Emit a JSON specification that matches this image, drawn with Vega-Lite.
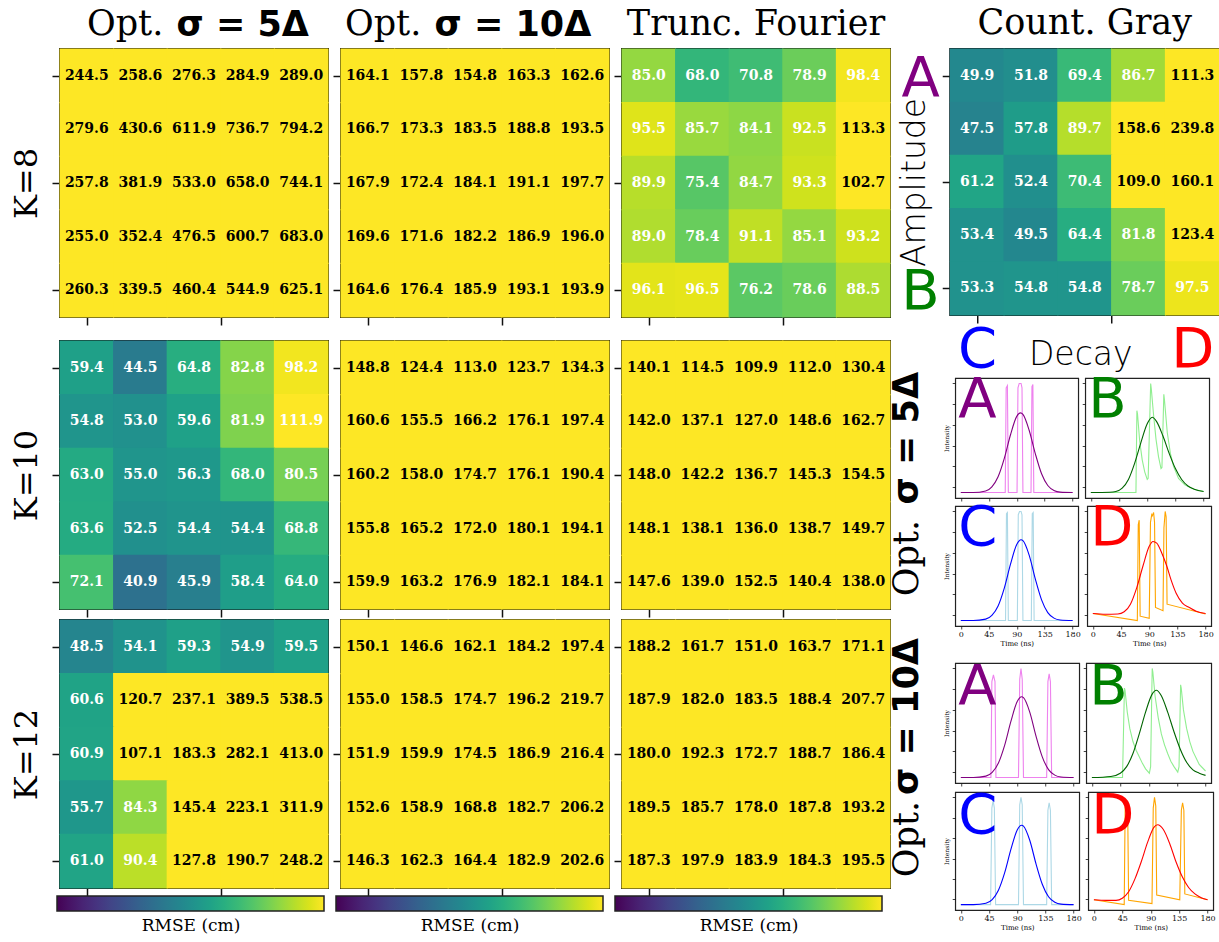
{
  "$schema": "https://vega.github.io/schema/vega-lite/v6.json",
  "background": "#ffffff",
  "padding": {"left": 9, "top": 5, "right": 3, "bottom": 3},
  "config": {
    "view": {"stroke": "#222222"},
    "axis": {"grid": false, "domain": false, "tickColor": "#111111", "labelColor": "#111111", "titleColor": "#000000", "labelFont": "DejaVu Serif", "titleFont": "DejaVu Serif", "titleFontWeight": "normal", "labelFlush": false, "labelOverlap": false},
    "title": {"color": "#000000", "fontWeight": "normal"}
  },
  "datasets": {
    "rmse": [
      {"p":"a8","r":0,"c":0,"v":244.5},{"p":"a8","r":0,"c":1,"v":258.6},{"p":"a8","r":0,"c":2,"v":276.3},{"p":"a8","r":0,"c":3,"v":284.9},{"p":"a8","r":0,"c":4,"v":289.0},
      {"p":"a8","r":1,"c":0,"v":279.6},{"p":"a8","r":1,"c":1,"v":430.6},{"p":"a8","r":1,"c":2,"v":611.9},{"p":"a8","r":1,"c":3,"v":736.7},{"p":"a8","r":1,"c":4,"v":794.2},
      {"p":"a8","r":2,"c":0,"v":257.8},{"p":"a8","r":2,"c":1,"v":381.9},{"p":"a8","r":2,"c":2,"v":533.0},{"p":"a8","r":2,"c":3,"v":658.0},{"p":"a8","r":2,"c":4,"v":744.1},
      {"p":"a8","r":3,"c":0,"v":255.0},{"p":"a8","r":3,"c":1,"v":352.4},{"p":"a8","r":3,"c":2,"v":476.5},{"p":"a8","r":3,"c":3,"v":600.7},{"p":"a8","r":3,"c":4,"v":683.0},
      {"p":"a8","r":4,"c":0,"v":260.3},{"p":"a8","r":4,"c":1,"v":339.5},{"p":"a8","r":4,"c":2,"v":460.4},{"p":"a8","r":4,"c":3,"v":544.9},{"p":"a8","r":4,"c":4,"v":625.1},
      {"p":"b8","r":0,"c":0,"v":164.1},{"p":"b8","r":0,"c":1,"v":157.8},{"p":"b8","r":0,"c":2,"v":154.8},{"p":"b8","r":0,"c":3,"v":163.3},{"p":"b8","r":0,"c":4,"v":162.6},
      {"p":"b8","r":1,"c":0,"v":166.7},{"p":"b8","r":1,"c":1,"v":173.3},{"p":"b8","r":1,"c":2,"v":183.5},{"p":"b8","r":1,"c":3,"v":188.8},{"p":"b8","r":1,"c":4,"v":193.5},
      {"p":"b8","r":2,"c":0,"v":167.9},{"p":"b8","r":2,"c":1,"v":172.4},{"p":"b8","r":2,"c":2,"v":184.1},{"p":"b8","r":2,"c":3,"v":191.1},{"p":"b8","r":2,"c":4,"v":197.7},
      {"p":"b8","r":3,"c":0,"v":169.6},{"p":"b8","r":3,"c":1,"v":171.6},{"p":"b8","r":3,"c":2,"v":182.2},{"p":"b8","r":3,"c":3,"v":186.9},{"p":"b8","r":3,"c":4,"v":196.0},
      {"p":"b8","r":4,"c":0,"v":164.6},{"p":"b8","r":4,"c":1,"v":176.4},{"p":"b8","r":4,"c":2,"v":185.9},{"p":"b8","r":4,"c":3,"v":193.1},{"p":"b8","r":4,"c":4,"v":193.9},
      {"p":"c8","r":0,"c":0,"v":85.0},{"p":"c8","r":0,"c":1,"v":68.0},{"p":"c8","r":0,"c":2,"v":70.8},{"p":"c8","r":0,"c":3,"v":78.9},{"p":"c8","r":0,"c":4,"v":98.4},
      {"p":"c8","r":1,"c":0,"v":95.5},{"p":"c8","r":1,"c":1,"v":85.7},{"p":"c8","r":1,"c":2,"v":84.1},{"p":"c8","r":1,"c":3,"v":92.5},{"p":"c8","r":1,"c":4,"v":113.3},
      {"p":"c8","r":2,"c":0,"v":89.9},{"p":"c8","r":2,"c":1,"v":75.4},{"p":"c8","r":2,"c":2,"v":84.7},{"p":"c8","r":2,"c":3,"v":93.3},{"p":"c8","r":2,"c":4,"v":102.7},
      {"p":"c8","r":3,"c":0,"v":89.0},{"p":"c8","r":3,"c":1,"v":78.4},{"p":"c8","r":3,"c":2,"v":91.1},{"p":"c8","r":3,"c":3,"v":85.1},{"p":"c8","r":3,"c":4,"v":93.2},
      {"p":"c8","r":4,"c":0,"v":96.1},{"p":"c8","r":4,"c":1,"v":96.5},{"p":"c8","r":4,"c":2,"v":76.2},{"p":"c8","r":4,"c":3,"v":78.6},{"p":"c8","r":4,"c":4,"v":88.5},
      {"p":"g","r":0,"c":0,"v":49.9},{"p":"g","r":0,"c":1,"v":51.8},{"p":"g","r":0,"c":2,"v":69.4},{"p":"g","r":0,"c":3,"v":86.7},{"p":"g","r":0,"c":4,"v":111.3},
      {"p":"g","r":1,"c":0,"v":47.5},{"p":"g","r":1,"c":1,"v":57.8},{"p":"g","r":1,"c":2,"v":89.7},{"p":"g","r":1,"c":3,"v":158.6},{"p":"g","r":1,"c":4,"v":239.8},
      {"p":"g","r":2,"c":0,"v":61.2},{"p":"g","r":2,"c":1,"v":52.4},{"p":"g","r":2,"c":2,"v":70.4},{"p":"g","r":2,"c":3,"v":109.0},{"p":"g","r":2,"c":4,"v":160.1},
      {"p":"g","r":3,"c":0,"v":53.4},{"p":"g","r":3,"c":1,"v":49.5},{"p":"g","r":3,"c":2,"v":64.4},{"p":"g","r":3,"c":3,"v":81.8},{"p":"g","r":3,"c":4,"v":123.4},
      {"p":"g","r":4,"c":0,"v":53.3},{"p":"g","r":4,"c":1,"v":54.8},{"p":"g","r":4,"c":2,"v":54.8},{"p":"g","r":4,"c":3,"v":78.7},{"p":"g","r":4,"c":4,"v":97.5},
      {"p":"a10","r":0,"c":0,"v":59.4},{"p":"a10","r":0,"c":1,"v":44.5},{"p":"a10","r":0,"c":2,"v":64.8},{"p":"a10","r":0,"c":3,"v":82.8},{"p":"a10","r":0,"c":4,"v":98.2},
      {"p":"a10","r":1,"c":0,"v":54.8},{"p":"a10","r":1,"c":1,"v":53.0},{"p":"a10","r":1,"c":2,"v":59.6},{"p":"a10","r":1,"c":3,"v":81.9},{"p":"a10","r":1,"c":4,"v":111.9},
      {"p":"a10","r":2,"c":0,"v":63.0},{"p":"a10","r":2,"c":1,"v":55.0},{"p":"a10","r":2,"c":2,"v":56.3},{"p":"a10","r":2,"c":3,"v":68.0},{"p":"a10","r":2,"c":4,"v":80.5},
      {"p":"a10","r":3,"c":0,"v":63.6},{"p":"a10","r":3,"c":1,"v":52.5},{"p":"a10","r":3,"c":2,"v":54.4},{"p":"a10","r":3,"c":3,"v":54.4},{"p":"a10","r":3,"c":4,"v":68.8},
      {"p":"a10","r":4,"c":0,"v":72.1},{"p":"a10","r":4,"c":1,"v":40.9},{"p":"a10","r":4,"c":2,"v":45.9},{"p":"a10","r":4,"c":3,"v":58.4},{"p":"a10","r":4,"c":4,"v":64.0},
      {"p":"b10","r":0,"c":0,"v":148.8},{"p":"b10","r":0,"c":1,"v":124.4},{"p":"b10","r":0,"c":2,"v":113.0},{"p":"b10","r":0,"c":3,"v":123.7},{"p":"b10","r":0,"c":4,"v":134.3},
      {"p":"b10","r":1,"c":0,"v":160.6},{"p":"b10","r":1,"c":1,"v":155.5},{"p":"b10","r":1,"c":2,"v":166.2},{"p":"b10","r":1,"c":3,"v":176.1},{"p":"b10","r":1,"c":4,"v":197.4},
      {"p":"b10","r":2,"c":0,"v":160.2},{"p":"b10","r":2,"c":1,"v":158.0},{"p":"b10","r":2,"c":2,"v":174.7},{"p":"b10","r":2,"c":3,"v":176.1},{"p":"b10","r":2,"c":4,"v":190.4},
      {"p":"b10","r":3,"c":0,"v":155.8},{"p":"b10","r":3,"c":1,"v":165.2},{"p":"b10","r":3,"c":2,"v":172.0},{"p":"b10","r":3,"c":3,"v":180.1},{"p":"b10","r":3,"c":4,"v":194.1},
      {"p":"b10","r":4,"c":0,"v":159.9},{"p":"b10","r":4,"c":1,"v":163.2},{"p":"b10","r":4,"c":2,"v":176.9},{"p":"b10","r":4,"c":3,"v":182.1},{"p":"b10","r":4,"c":4,"v":184.1},
      {"p":"c10","r":0,"c":0,"v":140.1},{"p":"c10","r":0,"c":1,"v":114.5},{"p":"c10","r":0,"c":2,"v":109.9},{"p":"c10","r":0,"c":3,"v":112.0},{"p":"c10","r":0,"c":4,"v":130.4},
      {"p":"c10","r":1,"c":0,"v":142.0},{"p":"c10","r":1,"c":1,"v":137.1},{"p":"c10","r":1,"c":2,"v":127.0},{"p":"c10","r":1,"c":3,"v":148.6},{"p":"c10","r":1,"c":4,"v":162.7},
      {"p":"c10","r":2,"c":0,"v":148.0},{"p":"c10","r":2,"c":1,"v":142.2},{"p":"c10","r":2,"c":2,"v":136.7},{"p":"c10","r":2,"c":3,"v":145.3},{"p":"c10","r":2,"c":4,"v":154.5},
      {"p":"c10","r":3,"c":0,"v":148.1},{"p":"c10","r":3,"c":1,"v":138.1},{"p":"c10","r":3,"c":2,"v":136.0},{"p":"c10","r":3,"c":3,"v":138.7},{"p":"c10","r":3,"c":4,"v":149.7},
      {"p":"c10","r":4,"c":0,"v":147.6},{"p":"c10","r":4,"c":1,"v":139.0},{"p":"c10","r":4,"c":2,"v":152.5},{"p":"c10","r":4,"c":3,"v":140.4},{"p":"c10","r":4,"c":4,"v":138.0},
      {"p":"a12","r":0,"c":0,"v":48.5},{"p":"a12","r":0,"c":1,"v":54.1},{"p":"a12","r":0,"c":2,"v":59.3},{"p":"a12","r":0,"c":3,"v":54.9},{"p":"a12","r":0,"c":4,"v":59.5},
      {"p":"a12","r":1,"c":0,"v":60.6},{"p":"a12","r":1,"c":1,"v":120.7},{"p":"a12","r":1,"c":2,"v":237.1},{"p":"a12","r":1,"c":3,"v":389.5},{"p":"a12","r":1,"c":4,"v":538.5},
      {"p":"a12","r":2,"c":0,"v":60.9},{"p":"a12","r":2,"c":1,"v":107.1},{"p":"a12","r":2,"c":2,"v":183.3},{"p":"a12","r":2,"c":3,"v":282.1},{"p":"a12","r":2,"c":4,"v":413.0},
      {"p":"a12","r":3,"c":0,"v":55.7},{"p":"a12","r":3,"c":1,"v":84.3},{"p":"a12","r":3,"c":2,"v":145.4},{"p":"a12","r":3,"c":3,"v":223.1},{"p":"a12","r":3,"c":4,"v":311.9},
      {"p":"a12","r":4,"c":0,"v":61.0},{"p":"a12","r":4,"c":1,"v":90.4},{"p":"a12","r":4,"c":2,"v":127.8},{"p":"a12","r":4,"c":3,"v":190.7},{"p":"a12","r":4,"c":4,"v":248.2},
      {"p":"b12","r":0,"c":0,"v":150.1},{"p":"b12","r":0,"c":1,"v":146.6},{"p":"b12","r":0,"c":2,"v":162.1},{"p":"b12","r":0,"c":3,"v":184.2},{"p":"b12","r":0,"c":4,"v":197.4},
      {"p":"b12","r":1,"c":0,"v":155.0},{"p":"b12","r":1,"c":1,"v":158.5},{"p":"b12","r":1,"c":2,"v":174.7},{"p":"b12","r":1,"c":3,"v":196.2},{"p":"b12","r":1,"c":4,"v":219.7},
      {"p":"b12","r":2,"c":0,"v":151.9},{"p":"b12","r":2,"c":1,"v":159.9},{"p":"b12","r":2,"c":2,"v":174.5},{"p":"b12","r":2,"c":3,"v":186.9},{"p":"b12","r":2,"c":4,"v":216.4},
      {"p":"b12","r":3,"c":0,"v":152.6},{"p":"b12","r":3,"c":1,"v":158.9},{"p":"b12","r":3,"c":2,"v":168.8},{"p":"b12","r":3,"c":3,"v":182.7},{"p":"b12","r":3,"c":4,"v":206.2},
      {"p":"b12","r":4,"c":0,"v":146.3},{"p":"b12","r":4,"c":1,"v":162.3},{"p":"b12","r":4,"c":2,"v":164.4},{"p":"b12","r":4,"c":3,"v":182.9},{"p":"b12","r":4,"c":4,"v":202.6},
      {"p":"c12","r":0,"c":0,"v":188.2},{"p":"c12","r":0,"c":1,"v":161.7},{"p":"c12","r":0,"c":2,"v":151.0},{"p":"c12","r":0,"c":3,"v":163.7},{"p":"c12","r":0,"c":4,"v":171.1},
      {"p":"c12","r":1,"c":0,"v":187.9},{"p":"c12","r":1,"c":1,"v":182.0},{"p":"c12","r":1,"c":2,"v":183.5},{"p":"c12","r":1,"c":3,"v":188.4},{"p":"c12","r":1,"c":4,"v":207.7},
      {"p":"c12","r":2,"c":0,"v":180.0},{"p":"c12","r":2,"c":1,"v":192.3},{"p":"c12","r":2,"c":2,"v":172.7},{"p":"c12","r":2,"c":3,"v":188.7},{"p":"c12","r":2,"c":4,"v":186.4},
      {"p":"c12","r":3,"c":0,"v":189.5},{"p":"c12","r":3,"c":1,"v":185.7},{"p":"c12","r":3,"c":2,"v":178.0},{"p":"c12","r":3,"c":3,"v":187.8},{"p":"c12","r":3,"c":4,"v":193.2},
      {"p":"c12","r":4,"c":0,"v":187.3},{"p":"c12","r":4,"c":1,"v":197.9},{"p":"c12","r":4,"c":2,"v":183.9},{"p":"c12","r":4,"c":3,"v":184.3},{"p":"c12","r":4,"c":4,"v":195.5}
    ],
    "traces": [
      {"k":"5A","s":"p","t":0,"y":0},{"k":"5A","s":"p","t":71.5,"y":0},{"k":"5A","s":"p","t":73,"y":0.96},{"k":"5A","s":"p","t":75,"y":0.98},{"k":"5A","s":"p","t":76.5,"y":0},{"k":"5A","s":"p","t":90.5,"y":0},{"k":"5A","s":"p","t":92,"y":0.96},{"k":"5A","s":"p","t":94,"y":1},{"k":"5A","s":"p","t":97,"y":1},{"k":"5A","s":"p","t":98.5,"y":0.96},{"k":"5A","s":"p","t":100,"y":0},{"k":"5A","s":"p","t":113,"y":0},{"k":"5A","s":"p","t":114.5,"y":0.97},{"k":"5A","s":"p","t":116,"y":0.99},{"k":"5A","s":"p","t":117.5,"y":0},{"k":"5A","s":"p","t":180,"y":0},
      {"k":"5A","s":"f","t":0,"y":0},{"k":"5A","s":"f","t":20,"y":0},{"k":"5A","s":"f","t":40,"y":0.014},{"k":"5A","s":"f","t":50,"y":0.052},{"k":"5A","s":"f","t":60,"y":0.144},{"k":"5A","s":"f","t":70,"y":0.313},{"k":"5A","s":"f","t":80,"y":0.53},{"k":"5A","s":"f","t":90,"y":0.698},{"k":"5A","s":"f","t":96,"y":0.73},{"k":"5A","s":"f","t":100,"y":0.716},{"k":"5A","s":"f","t":110,"y":0.571},{"k":"5A","s":"f","t":120,"y":0.355},{"k":"5A","s":"f","t":130,"y":0.172},{"k":"5A","s":"f","t":140,"y":0.065},{"k":"5A","s":"f","t":150,"y":0.019},{"k":"5A","s":"f","t":160,"y":0.004},{"k":"5A","s":"f","t":180,"y":0},
      {"k":"5B","s":"p","t":0,"y":0},{"k":"5B","s":"p","t":72,"y":0},{"k":"5B","s":"p","t":73.5,"y":0.75},{"k":"5B","s":"p","t":74.5,"y":0.72},{"k":"5B","s":"p","t":78,"y":0.47},{"k":"5B","s":"p","t":82,"y":0.3},{"k":"5B","s":"p","t":86,"y":0.19},{"k":"5B","s":"p","t":90,"y":0.12},{"k":"5B","s":"p","t":91.5,"y":0.13},{"k":"5B","s":"p","t":95.5,"y":1},{"k":"5B","s":"p","t":96.5,"y":0.95},{"k":"5B","s":"p","t":100,"y":0.72},{"k":"5B","s":"p","t":104,"y":0.49},{"k":"5B","s":"p","t":108,"y":0.33},{"k":"5B","s":"p","t":112,"y":0.22},{"k":"5B","s":"p","t":113.5,"y":0.23},{"k":"5B","s":"p","t":116.5,"y":0.9},{"k":"5B","s":"p","t":117.5,"y":0.85},{"k":"5B","s":"p","t":122,"y":0.55},{"k":"5B","s":"p","t":127,"y":0.36},{"k":"5B","s":"p","t":132,"y":0.24},{"k":"5B","s":"p","t":140,"y":0.13},{"k":"5B","s":"p","t":150,"y":0.07},{"k":"5B","s":"p","t":165,"y":0.03},{"k":"5B","s":"p","t":180,"y":0.01},
      {"k":"5B","s":"f","t":0,"y":0},{"k":"5B","s":"f","t":30,"y":0.003},{"k":"5B","s":"f","t":40,"y":0.01},{"k":"5B","s":"f","t":50,"y":0.04},{"k":"5B","s":"f","t":60,"y":0.12},{"k":"5B","s":"f","t":70,"y":0.27},{"k":"5B","s":"f","t":80,"y":0.46},{"k":"5B","s":"f","t":90,"y":0.63},{"k":"5B","s":"f","t":98,"y":0.69},{"k":"5B","s":"f","t":105,"y":0.65},{"k":"5B","s":"f","t":115,"y":0.52},{"k":"5B","s":"f","t":125,"y":0.36},{"k":"5B","s":"f","t":135,"y":0.22},{"k":"5B","s":"f","t":145,"y":0.12},{"k":"5B","s":"f","t":155,"y":0.06},{"k":"5B","s":"f","t":165,"y":0.03},{"k":"5B","s":"f","t":180,"y":0.01},
      {"k":"5C","s":"p","t":0,"y":0},{"k":"5C","s":"p","t":72,"y":0},{"k":"5C","s":"p","t":73.5,"y":0.98},{"k":"5C","s":"p","t":75,"y":0.99},{"k":"5C","s":"p","t":76.5,"y":0},{"k":"5C","s":"p","t":91,"y":0},{"k":"5C","s":"p","t":92.5,"y":0.97},{"k":"5C","s":"p","t":94.5,"y":1},{"k":"5C","s":"p","t":97,"y":1},{"k":"5C","s":"p","t":98.5,"y":0.97},{"k":"5C","s":"p","t":100,"y":0},{"k":"5C","s":"p","t":113.5,"y":0},{"k":"5C","s":"p","t":115,"y":0.98},{"k":"5C","s":"p","t":116.5,"y":0.99},{"k":"5C","s":"p","t":118,"y":0},{"k":"5C","s":"p","t":180,"y":0},
      {"k":"5C","s":"f","t":0,"y":0},{"k":"5C","s":"f","t":20,"y":0},{"k":"5C","s":"f","t":40,"y":0.013},{"k":"5C","s":"f","t":50,"y":0.047},{"k":"5C","s":"f","t":60,"y":0.134},{"k":"5C","s":"f","t":70,"y":0.298},{"k":"5C","s":"f","t":80,"y":0.517},{"k":"5C","s":"f","t":90,"y":0.696},{"k":"5C","s":"f","t":97,"y":0.74},{"k":"5C","s":"f","t":100,"y":0.732},{"k":"5C","s":"f","t":110,"y":0.6},{"k":"5C","s":"f","t":120,"y":0.38},{"k":"5C","s":"f","t":130,"y":0.19},{"k":"5C","s":"f","t":140,"y":0.073},{"k":"5C","s":"f","t":150,"y":0.022},{"k":"5C","s":"f","t":160,"y":0.005},{"k":"5C","s":"f","t":180,"y":0},
      {"k":"5D","s":"p","t":0,"y":0.065},{"k":"5D","s":"p","t":71,"y":0},{"k":"5D","s":"p","t":72.5,"y":0.88},{"k":"5D","s":"p","t":74,"y":0.92},{"k":"5D","s":"p","t":75.5,"y":0.04},{"k":"5D","s":"p","t":90,"y":0.02},{"k":"5D","s":"p","t":92,"y":0.9},{"k":"5D","s":"p","t":94,"y":0.97},{"k":"5D","s":"p","t":95,"y":0.96},{"k":"5D","s":"p","t":97,"y":0.99},{"k":"5D","s":"p","t":98.5,"y":0.9},{"k":"5D","s":"p","t":100,"y":0.12},{"k":"5D","s":"p","t":112,"y":0.09},{"k":"5D","s":"p","t":113.5,"y":0.85},{"k":"5D","s":"p","t":115.5,"y":1},{"k":"5D","s":"p","t":117,"y":0.95},{"k":"5D","s":"p","t":118.5,"y":0.15},{"k":"5D","s":"p","t":180,"y":0.06},
      {"k":"5D","s":"f","t":0,"y":0.065},{"k":"5D","s":"f","t":20,"y":0.058},{"k":"5D","s":"f","t":40,"y":0.06},{"k":"5D","s":"f","t":50,"y":0.08},{"k":"5D","s":"f","t":60,"y":0.15},{"k":"5D","s":"f","t":70,"y":0.3},{"k":"5D","s":"f","t":80,"y":0.5},{"k":"5D","s":"f","t":90,"y":0.68},{"k":"5D","s":"f","t":96,"y":0.725},{"k":"5D","s":"f","t":102,"y":0.71},{"k":"5D","s":"f","t":110,"y":0.62},{"k":"5D","s":"f","t":118,"y":0.5},{"k":"5D","s":"f","t":125,"y":0.37},{"k":"5D","s":"f","t":133,"y":0.25},{"k":"5D","s":"f","t":143,"y":0.16},{"k":"5D","s":"f","t":154,"y":0.12},{"k":"5D","s":"f","t":165,"y":0.085},{"k":"5D","s":"f","t":180,"y":0.065},
      {"k":"10A","s":"p","t":0,"y":0},{"k":"10A","s":"p","t":48,"y":0},{"k":"10A","s":"p","t":49.5,"y":0.88},{"k":"10A","s":"p","t":52,"y":0.94},{"k":"10A","s":"p","t":54.5,"y":0.88},{"k":"10A","s":"p","t":56,"y":0},{"k":"10A","s":"p","t":92,"y":0},{"k":"10A","s":"p","t":94,"y":0.9},{"k":"10A","s":"p","t":96,"y":1},{"k":"10A","s":"p","t":98,"y":0.9},{"k":"10A","s":"p","t":100,"y":0},{"k":"10A","s":"p","t":137,"y":0},{"k":"10A","s":"p","t":139,"y":0.88},{"k":"10A","s":"p","t":141,"y":0.95},{"k":"10A","s":"p","t":143,"y":0.88},{"k":"10A","s":"p","t":145,"y":0},{"k":"10A","s":"p","t":180,"y":0},
      {"k":"10A","s":"f","t":0,"y":0},{"k":"10A","s":"f","t":20,"y":0},{"k":"10A","s":"f","t":40,"y":0.013},{"k":"10A","s":"f","t":50,"y":0.047},{"k":"10A","s":"f","t":60,"y":0.134},{"k":"10A","s":"f","t":70,"y":0.298},{"k":"10A","s":"f","t":80,"y":0.517},{"k":"10A","s":"f","t":90,"y":0.696},{"k":"10A","s":"f","t":97,"y":0.74},{"k":"10A","s":"f","t":100,"y":0.732},{"k":"10A","s":"f","t":110,"y":0.6},{"k":"10A","s":"f","t":120,"y":0.38},{"k":"10A","s":"f","t":130,"y":0.19},{"k":"10A","s":"f","t":140,"y":0.073},{"k":"10A","s":"f","t":150,"y":0.022},{"k":"10A","s":"f","t":160,"y":0.005},{"k":"10A","s":"f","t":180,"y":0},
      {"k":"10B","s":"p","t":0,"y":0},{"k":"10B","s":"p","t":48.5,"y":0},{"k":"10B","s":"p","t":51.5,"y":0.82},{"k":"10B","s":"p","t":52.5,"y":0.8},{"k":"10B","s":"p","t":56,"y":0.6},{"k":"10B","s":"p","t":60,"y":0.45},{"k":"10B","s":"p","t":65,"y":0.33},{"k":"10B","s":"p","t":70,"y":0.25},{"k":"10B","s":"p","t":75,"y":0.19},{"k":"10B","s":"p","t":80,"y":0.13},{"k":"10B","s":"p","t":85,"y":0.08},{"k":"10B","s":"p","t":91,"y":0.04},{"k":"10B","s":"p","t":93,"y":0.1},{"k":"10B","s":"p","t":95.5,"y":1},{"k":"10B","s":"p","t":96.5,"y":0.97},{"k":"10B","s":"p","t":100,"y":0.75},{"k":"10B","s":"p","t":105,"y":0.55},{"k":"10B","s":"p","t":110,"y":0.4},{"k":"10B","s":"p","t":115,"y":0.3},{"k":"10B","s":"p","t":120,"y":0.22},{"k":"10B","s":"p","t":125,"y":0.15},{"k":"10B","s":"p","t":130,"y":0.1},{"k":"10B","s":"p","t":136,"y":0.05},{"k":"10B","s":"p","t":138,"y":0.1},{"k":"10B","s":"p","t":140.5,"y":0.85},{"k":"10B","s":"p","t":141.5,"y":0.82},{"k":"10B","s":"p","t":145,"y":0.62},{"k":"10B","s":"p","t":150,"y":0.45},{"k":"10B","s":"p","t":155,"y":0.33},{"k":"10B","s":"p","t":160,"y":0.24},{"k":"10B","s":"p","t":170,"y":0.12},{"k":"10B","s":"p","t":180,"y":0.06},
      {"k":"10B","s":"f","t":0,"y":0},{"k":"10B","s":"f","t":30,"y":0.01},{"k":"10B","s":"f","t":45,"y":0.04},{"k":"10B","s":"f","t":55,"y":0.1},{"k":"10B","s":"f","t":65,"y":0.22},{"k":"10B","s":"f","t":75,"y":0.4},{"k":"10B","s":"f","t":85,"y":0.6},{"k":"10B","s":"f","t":95,"y":0.76},{"k":"10B","s":"f","t":102,"y":0.8},{"k":"10B","s":"f","t":110,"y":0.75},{"k":"10B","s":"f","t":120,"y":0.6},{"k":"10B","s":"f","t":130,"y":0.42},{"k":"10B","s":"f","t":140,"y":0.26},{"k":"10B","s":"f","t":150,"y":0.14},{"k":"10B","s":"f","t":160,"y":0.07},{"k":"10B","s":"f","t":170,"y":0.04},{"k":"10B","s":"f","t":180,"y":0.02},
      {"k":"10C","s":"p","t":0,"y":0},{"k":"10C","s":"p","t":47.5,"y":0},{"k":"10C","s":"p","t":49.5,"y":0.9},{"k":"10C","s":"p","t":51.5,"y":0.97},{"k":"10C","s":"p","t":53.5,"y":0.9},{"k":"10C","s":"p","t":55.5,"y":0},{"k":"10C","s":"p","t":92,"y":0},{"k":"10C","s":"p","t":94,"y":0.93},{"k":"10C","s":"p","t":96,"y":1},{"k":"10C","s":"p","t":98,"y":0.93},{"k":"10C","s":"p","t":100,"y":0},{"k":"10C","s":"p","t":137,"y":0},{"k":"10C","s":"p","t":139,"y":0.88},{"k":"10C","s":"p","t":141,"y":0.95},{"k":"10C","s":"p","t":143,"y":0.88},{"k":"10C","s":"p","t":145,"y":0},{"k":"10C","s":"p","t":180,"y":0},
      {"k":"10C","s":"f","t":0,"y":0},{"k":"10C","s":"f","t":20,"y":0},{"k":"10C","s":"f","t":40,"y":0.013},{"k":"10C","s":"f","t":50,"y":0.047},{"k":"10C","s":"f","t":60,"y":0.134},{"k":"10C","s":"f","t":70,"y":0.298},{"k":"10C","s":"f","t":80,"y":0.517},{"k":"10C","s":"f","t":90,"y":0.696},{"k":"10C","s":"f","t":97,"y":0.74},{"k":"10C","s":"f","t":100,"y":0.732},{"k":"10C","s":"f","t":110,"y":0.6},{"k":"10C","s":"f","t":120,"y":0.38},{"k":"10C","s":"f","t":130,"y":0.19},{"k":"10C","s":"f","t":140,"y":0.073},{"k":"10C","s":"f","t":150,"y":0.022},{"k":"10C","s":"f","t":160,"y":0.005},{"k":"10C","s":"f","t":180,"y":0},
      {"k":"10D","s":"p","t":0,"y":0.045},{"k":"10D","s":"p","t":48,"y":0},{"k":"10D","s":"p","t":49.5,"y":0.9},{"k":"10D","s":"p","t":51.5,"y":0.97},{"k":"10D","s":"p","t":53.5,"y":0.9},{"k":"10D","s":"p","t":55,"y":0.04},{"k":"10D","s":"p","t":92,"y":0.01},{"k":"10D","s":"p","t":94,"y":0.9},{"k":"10D","s":"p","t":96,"y":1},{"k":"10D","s":"p","t":98,"y":0.92},{"k":"10D","s":"p","t":99.5,"y":0.09},{"k":"10D","s":"p","t":136,"y":0.045},{"k":"10D","s":"p","t":138.5,"y":0.88},{"k":"10D","s":"p","t":140.5,"y":0.95},{"k":"10D","s":"p","t":142.5,"y":0.88},{"k":"10D","s":"p","t":144,"y":0.1},{"k":"10D","s":"p","t":180,"y":0.045},
      {"k":"10D","s":"f","t":0,"y":0.045},{"k":"10D","s":"f","t":20,"y":0.04},{"k":"10D","s":"f","t":35,"y":0.04},{"k":"10D","s":"f","t":45,"y":0.06},{"k":"10D","s":"f","t":55,"y":0.12},{"k":"10D","s":"f","t":65,"y":0.24},{"k":"10D","s":"f","t":75,"y":0.4},{"k":"10D","s":"f","t":85,"y":0.58},{"k":"10D","s":"f","t":95,"y":0.72},{"k":"10D","s":"f","t":101,"y":0.745},{"k":"10D","s":"f","t":110,"y":0.7},{"k":"10D","s":"f","t":120,"y":0.57},{"k":"10D","s":"f","t":130,"y":0.4},{"k":"10D","s":"f","t":140,"y":0.26},{"k":"10D","s":"f","t":150,"y":0.16},{"k":"10D","s":"f","t":160,"y":0.1},{"k":"10D","s":"f","t":170,"y":0.065},{"k":"10D","s":"f","t":180,"y":0.045}
    ]
  },
  "resolve": {"scale": {"color": "independent"}},
  "spacing": -2,
  "hconcat": [
    {
      "resolve": {"scale": {"color": "independent"}},
      "spacing": 12,
      "vconcat": [
        {
          "resolve": {"scale": {"color": "independent"}},
          "spacing": 1,
          "hconcat": [
            {
              "width": 268, "height": 268,
              "view": {"stroke": "#111111", "strokeWidth": 2},
              "title": {"text": "Opt.", "font": "DejaVu Serif", "fontSize": 35, "fontWeight": "normal", "anchor": "start", "frame": "group", "dx": 27, "baseline": "alphabetic", "offset": -63},
              "data": {"name": "rmse"},
              "transform": [{"filter": "datum.p === 'a8'"}, {"calculate": "datum.c - 0.51", "as": "c0"}, {"calculate": "datum.c + 0.51", "as": "c1"}, {"calculate": "datum.r - 0.51", "as": "r0"}, {"calculate": "datum.r + 0.51", "as": "r1"}],
              "layer": [
                {"mark": {"type": "rect"}, "encoding": {
                  "x": {"field": "c0", "type": "quantitative", "scale": {"domain": [-0.5, 4.5], "nice": false, "zero": false}, "axis": {"values": [0, 2.5], "labels": false, "tickSize": 8, "tickWidth": 1.5, "title": "σ = 5Δ", "titleFont": "DejaVu Sans", "titleFontSize": 35, "titleFontWeight": "bold", "titleAngle": 0, "titleX": 116, "titleY": -282, "titleAlign": "left", "titleBaseline": "alphabetic"}},
                  "x2": {"field": "c1"},
                  "y": {"field": "r0", "type": "quantitative", "scale": {"domain": [-0.5, 4.5], "nice": false, "zero": false, "reverse": true}, "axis": {"values": [0, 2, 4], "labels": false, "tickSize": 8, "tickWidth": 1.5, "title": "K=8", "titleFontSize": 32, "titleAngle": -90, "titleX": -24, "titleY": 134, "titleAlign": "center", "titleBaseline": "alphabetic"}},
                  "y2": {"field": "r1"},
                  "color": {"field": "v", "type": "quantitative", "scale": {"scheme": "viridis", "domain": [6, 100], "clamp": true}, "legend": null}}},
                {"mark": {"type": "text", "font": "DejaVu Serif", "fontWeight": "bold", "fontSize": 14, "baseline": "middle"}, "encoding": {
                  "x": {"field": "c", "type": "quantitative", "scale": {"domain": [-0.5, 4.5], "nice": false, "zero": false}, "axis": {"values": [0, 2.5], "labels": false, "tickSize": 8, "tickWidth": 1.5, "title": "σ = 5Δ", "titleFont": "DejaVu Sans", "titleFontSize": 35, "titleFontWeight": "bold", "titleAngle": 0, "titleX": 116, "titleY": -282, "titleAlign": "left", "titleBaseline": "alphabetic"}},
                  "y": {"field": "r", "type": "quantitative", "scale": {"domain": [-0.5, 4.5], "nice": false, "zero": false, "reverse": true}, "axis": {"values": [0, 2, 4], "labels": false, "tickSize": 8, "tickWidth": 1.5, "title": "K=8", "titleFontSize": 32, "titleAngle": -90, "titleX": -24, "titleY": 134, "titleAlign": "center", "titleBaseline": "alphabetic"}},
                  "text": {"field": "v", "type": "quantitative", "format": ".1f"},
                  "color": {"condition": {"test": "datum.v >= 100 && datum.v !== 111.9", "value": "#000000"}, "value": "#ffffff"}}}
              ]
            },
            {
              "width": 268, "height": 268,
              "view": {"stroke": "#111111", "strokeWidth": 2},
              "title": {"text": "Opt.", "font": "DejaVu Serif", "fontSize": 35, "fontWeight": "normal", "anchor": "start", "frame": "group", "dx": 4, "baseline": "alphabetic", "offset": -63},
              "data": {"name": "rmse"},
              "transform": [{"filter": "datum.p === 'b8'"}, {"calculate": "datum.c - 0.51", "as": "c0"}, {"calculate": "datum.c + 0.51", "as": "c1"}, {"calculate": "datum.r - 0.51", "as": "r0"}, {"calculate": "datum.r + 0.51", "as": "r1"}],
              "layer": [
                {"mark": {"type": "rect"}, "encoding": {
                  "x": {"field": "c0", "type": "quantitative", "scale": {"domain": [-0.5, 4.5], "nice": false, "zero": false}, "axis": {"values": [0, 2.5], "labels": false, "tickSize": 8, "tickWidth": 1.5, "title": "σ = 10Δ", "titleFont": "DejaVu Sans", "titleFontSize": 35, "titleFontWeight": "bold", "titleAngle": 0, "titleX": 93, "titleY": -282, "titleAlign": "left", "titleBaseline": "alphabetic"}},
                  "x2": {"field": "c1"},
                  "y": {"field": "r0", "type": "quantitative", "scale": {"domain": [-0.5, 4.5], "nice": false, "zero": false, "reverse": true}, "axis": {"values": [0, 2, 4], "labels": false, "tickSize": 8, "tickWidth": 1.5, "title": null}},
                  "y2": {"field": "r1"},
                  "color": {"field": "v", "type": "quantitative", "scale": {"scheme": "viridis", "domain": [6, 100], "clamp": true}, "legend": null}}},
                {"mark": {"type": "text", "font": "DejaVu Serif", "fontWeight": "bold", "fontSize": 14, "baseline": "middle"}, "encoding": {
                  "x": {"field": "c", "type": "quantitative", "scale": {"domain": [-0.5, 4.5], "nice": false, "zero": false}, "axis": {"values": [0, 2.5], "labels": false, "tickSize": 8, "tickWidth": 1.5, "title": "σ = 10Δ", "titleFont": "DejaVu Sans", "titleFontSize": 35, "titleFontWeight": "bold", "titleAngle": 0, "titleX": 93, "titleY": -282, "titleAlign": "left", "titleBaseline": "alphabetic"}},
                  "y": {"field": "r", "type": "quantitative", "scale": {"domain": [-0.5, 4.5], "nice": false, "zero": false, "reverse": true}, "axis": {"values": [0, 2, 4], "labels": false, "tickSize": 8, "tickWidth": 1.5, "title": null}},
                  "text": {"field": "v", "type": "quantitative", "format": ".1f"},
                  "color": {"condition": {"test": "datum.v >= 100 && datum.v !== 111.9", "value": "#000000"}, "value": "#ffffff"}}}
              ]
            },
            {
              "width": 268, "height": 268,
              "view": {"stroke": "#111111", "strokeWidth": 2},
              "title": {"text": "Trunc. Fourier", "font": "DejaVu Serif", "fontSize": 35, "fontWeight": "normal", "anchor": "middle", "frame": "group", "baseline": "alphabetic", "offset": -22},
              "data": {"name": "rmse"},
              "transform": [{"filter": "datum.p === 'c8'"}, {"calculate": "datum.c - 0.51", "as": "c0"}, {"calculate": "datum.c + 0.51", "as": "c1"}, {"calculate": "datum.r - 0.51", "as": "r0"}, {"calculate": "datum.r + 0.51", "as": "r1"}],
              "layer": [
                {"mark": {"type": "rect"}, "encoding": {
                  "x": {"field": "c0", "type": "quantitative", "scale": {"domain": [-0.5, 4.5], "nice": false, "zero": false}, "axis": {"values": [0, 2.5], "labels": false, "tickSize": 8, "tickWidth": 1.5, "title": null}},
                  "x2": {"field": "c1"},
                  "y": {"field": "r0", "type": "quantitative", "scale": {"domain": [-0.5, 4.5], "nice": false, "zero": false, "reverse": true}, "axis": {"values": [0, 2, 4], "labels": false, "tickSize": 8, "tickWidth": 1.5, "title": null}},
                  "y2": {"field": "r1"},
                  "color": {"field": "v", "type": "quantitative", "scale": {"scheme": "viridis", "domain": [6, 100], "clamp": true}, "legend": null}}},
                {"mark": {"type": "text", "font": "DejaVu Serif", "fontWeight": "bold", "fontSize": 14, "baseline": "middle"}, "encoding": {
                  "x": {"field": "c", "type": "quantitative", "scale": {"domain": [-0.5, 4.5], "nice": false, "zero": false}, "axis": {"values": [0, 2.5], "labels": false, "tickSize": 8, "tickWidth": 1.5, "title": null}},
                  "y": {"field": "r", "type": "quantitative", "scale": {"domain": [-0.5, 4.5], "nice": false, "zero": false, "reverse": true}, "axis": {"values": [0, 2, 4], "labels": false, "tickSize": 8, "tickWidth": 1.5, "title": null}},
                  "text": {"field": "v", "type": "quantitative", "format": ".1f"},
                  "color": {"condition": {"test": "datum.v >= 100 && datum.v !== 111.9", "value": "#000000"}, "value": "#ffffff"}}}
              ]
            }
          ]
        },
        {
          "resolve": {"scale": {"color": "independent"}},
          "spacing": -1,
          "vconcat": [
            {
              "resolve": {"scale": {"color": "independent"}},
              "spacing": 1,
              "hconcat": [
                {
                  "width": 268, "height": 268,
                  "view": {"stroke": "#111111", "strokeWidth": 2},
                  "data": {"name": "rmse"},
                  "transform": [{"filter": "datum.p === 'a10'"}, {"calculate": "datum.c - 0.51", "as": "c0"}, {"calculate": "datum.c + 0.51", "as": "c1"}, {"calculate": "datum.r - 0.51", "as": "r0"}, {"calculate": "datum.r + 0.51", "as": "r1"}],
                  "layer": [
                    {"mark": {"type": "rect"}, "encoding": {
                      "x": {"field": "c0", "type": "quantitative", "scale": {"domain": [-0.5, 4.5], "nice": false, "zero": false}, "axis": {"values": [0, 2.5], "labels": false, "tickSize": 8, "tickWidth": 1.5, "title": null}},
                      "x2": {"field": "c1"},
                      "y": {"field": "r0", "type": "quantitative", "scale": {"domain": [-0.5, 4.5], "nice": false, "zero": false, "reverse": true}, "axis": {"values": [0, 2, 4], "labels": false, "tickSize": 8, "tickWidth": 1.5, "title": "K=10", "titleFontSize": 32, "titleAngle": -90, "titleX": -24, "titleY": 134, "titleAlign": "center", "titleBaseline": "alphabetic"}},
                      "y2": {"field": "r1"},
                      "color": {"field": "v", "type": "quantitative", "scale": {"scheme": "viridis", "domain": [6, 100], "clamp": true}, "legend": null}}},
                    {"mark": {"type": "text", "font": "DejaVu Serif", "fontWeight": "bold", "fontSize": 14, "baseline": "middle"}, "encoding": {
                      "x": {"field": "c", "type": "quantitative", "scale": {"domain": [-0.5, 4.5], "nice": false, "zero": false}, "axis": {"values": [0, 2.5], "labels": false, "tickSize": 8, "tickWidth": 1.5, "title": null}},
                      "y": {"field": "r", "type": "quantitative", "scale": {"domain": [-0.5, 4.5], "nice": false, "zero": false, "reverse": true}, "axis": {"values": [0, 2, 4], "labels": false, "tickSize": 8, "tickWidth": 1.5, "title": "K=10", "titleFontSize": 32, "titleAngle": -90, "titleX": -24, "titleY": 134, "titleAlign": "center", "titleBaseline": "alphabetic"}},
                      "text": {"field": "v", "type": "quantitative", "format": ".1f"},
                      "color": {"condition": {"test": "datum.v >= 100 && datum.v !== 111.9", "value": "#000000"}, "value": "#ffffff"}}}
                  ]
                },
                {
                  "width": 268, "height": 268,
                  "view": {"stroke": "#111111", "strokeWidth": 2},
                  "data": {"name": "rmse"},
                  "transform": [{"filter": "datum.p === 'b10'"}, {"calculate": "datum.c - 0.51", "as": "c0"}, {"calculate": "datum.c + 0.51", "as": "c1"}, {"calculate": "datum.r - 0.51", "as": "r0"}, {"calculate": "datum.r + 0.51", "as": "r1"}],
                  "layer": [
                    {"mark": {"type": "rect"}, "encoding": {
                      "x": {"field": "c0", "type": "quantitative", "scale": {"domain": [-0.5, 4.5], "nice": false, "zero": false}, "axis": {"values": [0, 2.5], "labels": false, "tickSize": 8, "tickWidth": 1.5, "title": null}},
                      "x2": {"field": "c1"},
                      "y": {"field": "r0", "type": "quantitative", "scale": {"domain": [-0.5, 4.5], "nice": false, "zero": false, "reverse": true}, "axis": {"values": [0, 2, 4], "labels": false, "tickSize": 8, "tickWidth": 1.5, "title": null}},
                      "y2": {"field": "r1"},
                      "color": {"field": "v", "type": "quantitative", "scale": {"scheme": "viridis", "domain": [6, 100], "clamp": true}, "legend": null}}},
                    {"mark": {"type": "text", "font": "DejaVu Serif", "fontWeight": "bold", "fontSize": 14, "baseline": "middle"}, "encoding": {
                      "x": {"field": "c", "type": "quantitative", "scale": {"domain": [-0.5, 4.5], "nice": false, "zero": false}, "axis": {"values": [0, 2.5], "labels": false, "tickSize": 8, "tickWidth": 1.5, "title": null}},
                      "y": {"field": "r", "type": "quantitative", "scale": {"domain": [-0.5, 4.5], "nice": false, "zero": false, "reverse": true}, "axis": {"values": [0, 2, 4], "labels": false, "tickSize": 8, "tickWidth": 1.5, "title": null}},
                      "text": {"field": "v", "type": "quantitative", "format": ".1f"},
                      "color": {"condition": {"test": "datum.v >= 100 && datum.v !== 111.9", "value": "#000000"}, "value": "#ffffff"}}}
                  ]
                },
                {
                  "width": 268, "height": 268,
                  "view": {"stroke": "#111111", "strokeWidth": 2},
                  "data": {"name": "rmse"},
                  "transform": [{"filter": "datum.p === 'c10'"}, {"calculate": "datum.c - 0.51", "as": "c0"}, {"calculate": "datum.c + 0.51", "as": "c1"}, {"calculate": "datum.r - 0.51", "as": "r0"}, {"calculate": "datum.r + 0.51", "as": "r1"}],
                  "layer": [
                    {"mark": {"type": "rect"}, "encoding": {
                      "x": {"field": "c0", "type": "quantitative", "scale": {"domain": [-0.5, 4.5], "nice": false, "zero": false}, "axis": {"values": [0, 2.5], "labels": false, "tickSize": 8, "tickWidth": 1.5, "title": null}},
                      "x2": {"field": "c1"},
                      "y": {"field": "r0", "type": "quantitative", "scale": {"domain": [-0.5, 4.5], "nice": false, "zero": false, "reverse": true}, "axis": {"values": [0, 2, 4], "labels": false, "tickSize": 8, "tickWidth": 1.5, "title": null}},
                      "y2": {"field": "r1"},
                      "color": {"field": "v", "type": "quantitative", "scale": {"scheme": "viridis", "domain": [6, 100], "clamp": true}, "legend": null}}},
                    {"mark": {"type": "text", "font": "DejaVu Serif", "fontWeight": "bold", "fontSize": 14, "baseline": "middle"}, "encoding": {
                      "x": {"field": "c", "type": "quantitative", "scale": {"domain": [-0.5, 4.5], "nice": false, "zero": false}, "axis": {"values": [0, 2.5], "labels": false, "tickSize": 8, "tickWidth": 1.5, "title": null}},
                      "y": {"field": "r", "type": "quantitative", "scale": {"domain": [-0.5, 4.5], "nice": false, "zero": false, "reverse": true}, "axis": {"values": [0, 2, 4], "labels": false, "tickSize": 8, "tickWidth": 1.5, "title": null}},
                      "text": {"field": "v", "type": "quantitative", "format": ".1f"},
                      "color": {"condition": {"test": "datum.v >= 100 && datum.v !== 111.9", "value": "#000000"}, "value": "#ffffff"}}}
                  ]
                }
              ]
            },
            {
              "resolve": {"scale": {"color": "independent"}},
              "spacing": 1,
              "hconcat": [
                {
                  "width": 268, "height": 268,
                  "view": {"stroke": "#111111", "strokeWidth": 2},
                  "data": {"name": "rmse"},
                  "transform": [{"filter": "datum.p === 'a12'"}, {"calculate": "datum.c - 0.51", "as": "c0"}, {"calculate": "datum.c + 0.51", "as": "c1"}, {"calculate": "datum.r - 0.51", "as": "r0"}, {"calculate": "datum.r + 0.51", "as": "r1"}],
                  "layer": [
                    {"mark": {"type": "rect"}, "encoding": {
                      "x": {"field": "c0", "type": "quantitative", "scale": {"domain": [-0.5, 4.5], "nice": false, "zero": false}, "axis": {"values": [0, 2.5], "labels": false, "tickSize": 8, "tickWidth": 1.5, "title": null}},
                      "x2": {"field": "c1"},
                      "y": {"field": "r0", "type": "quantitative", "scale": {"domain": [-0.5, 4.5], "nice": false, "zero": false, "reverse": true}, "axis": {"values": [0, 2, 4], "labels": false, "tickSize": 8, "tickWidth": 1.5, "title": "K=12", "titleFontSize": 32, "titleAngle": -90, "titleX": -24, "titleY": 134, "titleAlign": "center", "titleBaseline": "alphabetic"}},
                      "y2": {"field": "r1"},
                      "color": {"field": "v", "type": "quantitative", "scale": {"scheme": "viridis", "domain": [6, 100], "clamp": true}, "legend": {"orient": "none", "legendX": -3, "legendY": 276, "direction": "horizontal", "gradientLength": 267, "gradientThickness": 15, "gradientStrokeColor": "#222222", "gradientStrokeWidth": 1.5, "labelOpacity": 0, "labelFontSize": 1, "padding": 0, "title": "RMSE (cm)", "titleOrient": "bottom", "titleAnchor": "middle", "titleFont": "DejaVu Serif", "titleFontSize": 17, "titleFontWeight": "normal", "titleColor": "#000000", "titlePadding": 4}}}},
                    {"mark": {"type": "text", "font": "DejaVu Serif", "fontWeight": "bold", "fontSize": 14, "baseline": "middle"}, "encoding": {
                      "x": {"field": "c", "type": "quantitative", "scale": {"domain": [-0.5, 4.5], "nice": false, "zero": false}, "axis": {"values": [0, 2.5], "labels": false, "tickSize": 8, "tickWidth": 1.5, "title": null}},
                      "y": {"field": "r", "type": "quantitative", "scale": {"domain": [-0.5, 4.5], "nice": false, "zero": false, "reverse": true}, "axis": {"values": [0, 2, 4], "labels": false, "tickSize": 8, "tickWidth": 1.5, "title": "K=12", "titleFontSize": 32, "titleAngle": -90, "titleX": -24, "titleY": 134, "titleAlign": "center", "titleBaseline": "alphabetic"}},
                      "text": {"field": "v", "type": "quantitative", "format": ".1f"},
                      "color": {"condition": {"test": "datum.v >= 100 && datum.v !== 111.9", "value": "#000000"}, "value": "#ffffff"}}}
                  ]
                },
                {
                  "width": 268, "height": 268,
                  "view": {"stroke": "#111111", "strokeWidth": 2},
                  "data": {"name": "rmse"},
                  "transform": [{"filter": "datum.p === 'b12'"}, {"calculate": "datum.c - 0.51", "as": "c0"}, {"calculate": "datum.c + 0.51", "as": "c1"}, {"calculate": "datum.r - 0.51", "as": "r0"}, {"calculate": "datum.r + 0.51", "as": "r1"}],
                  "layer": [
                    {"mark": {"type": "rect"}, "encoding": {
                      "x": {"field": "c0", "type": "quantitative", "scale": {"domain": [-0.5, 4.5], "nice": false, "zero": false}, "axis": {"values": [0, 2.5], "labels": false, "tickSize": 8, "tickWidth": 1.5, "title": null}},
                      "x2": {"field": "c1"},
                      "y": {"field": "r0", "type": "quantitative", "scale": {"domain": [-0.5, 4.5], "nice": false, "zero": false, "reverse": true}, "axis": {"values": [0, 2, 4], "labels": false, "tickSize": 8, "tickWidth": 1.5, "title": null}},
                      "y2": {"field": "r1"},
                      "color": {"field": "v", "type": "quantitative", "scale": {"scheme": "viridis", "domain": [6, 100], "clamp": true}, "legend": {"orient": "none", "legendX": -5, "legendY": 276, "direction": "horizontal", "gradientLength": 267, "gradientThickness": 15, "gradientStrokeColor": "#222222", "gradientStrokeWidth": 1.5, "labelOpacity": 0, "labelFontSize": 1, "padding": 0, "title": "RMSE (cm)", "titleOrient": "bottom", "titleAnchor": "middle", "titleFont": "DejaVu Serif", "titleFontSize": 17, "titleFontWeight": "normal", "titleColor": "#000000", "titlePadding": 4}}}},
                    {"mark": {"type": "text", "font": "DejaVu Serif", "fontWeight": "bold", "fontSize": 14, "baseline": "middle"}, "encoding": {
                      "x": {"field": "c", "type": "quantitative", "scale": {"domain": [-0.5, 4.5], "nice": false, "zero": false}, "axis": {"values": [0, 2.5], "labels": false, "tickSize": 8, "tickWidth": 1.5, "title": null}},
                      "y": {"field": "r", "type": "quantitative", "scale": {"domain": [-0.5, 4.5], "nice": false, "zero": false, "reverse": true}, "axis": {"values": [0, 2, 4], "labels": false, "tickSize": 8, "tickWidth": 1.5, "title": null}},
                      "text": {"field": "v", "type": "quantitative", "format": ".1f"},
                      "color": {"condition": {"test": "datum.v >= 100 && datum.v !== 111.9", "value": "#000000"}, "value": "#ffffff"}}}
                  ]
                },
                {
                  "width": 268, "height": 268,
                  "view": {"stroke": "#111111", "strokeWidth": 2},
                  "data": {"name": "rmse"},
                  "transform": [{"filter": "datum.p === 'c12'"}, {"calculate": "datum.c - 0.51", "as": "c0"}, {"calculate": "datum.c + 0.51", "as": "c1"}, {"calculate": "datum.r - 0.51", "as": "r0"}, {"calculate": "datum.r + 0.51", "as": "r1"}],
                  "layer": [
                    {"mark": {"type": "rect"}, "encoding": {
                      "x": {"field": "c0", "type": "quantitative", "scale": {"domain": [-0.5, 4.5], "nice": false, "zero": false}, "axis": {"values": [0, 2.5], "labels": false, "tickSize": 8, "tickWidth": 1.5, "title": null}},
                      "x2": {"field": "c1"},
                      "y": {"field": "r0", "type": "quantitative", "scale": {"domain": [-0.5, 4.5], "nice": false, "zero": false, "reverse": true}, "axis": {"values": [0, 2, 4], "labels": false, "tickSize": 8, "tickWidth": 1.5, "title": null}},
                      "y2": {"field": "r1"},
                      "color": {"field": "v", "type": "quantitative", "scale": {"scheme": "viridis", "domain": [6, 100], "clamp": true}, "legend": {"orient": "none", "legendX": -7, "legendY": 276, "direction": "horizontal", "gradientLength": 267, "gradientThickness": 15, "gradientStrokeColor": "#222222", "gradientStrokeWidth": 1.5, "labelOpacity": 0, "labelFontSize": 1, "padding": 0, "title": "RMSE (cm)", "titleOrient": "bottom", "titleAnchor": "middle", "titleFont": "DejaVu Serif", "titleFontSize": 17, "titleFontWeight": "normal", "titleColor": "#000000", "titlePadding": 4}}}},
                    {"mark": {"type": "text", "font": "DejaVu Serif", "fontWeight": "bold", "fontSize": 14, "baseline": "middle"}, "encoding": {
                      "x": {"field": "c", "type": "quantitative", "scale": {"domain": [-0.5, 4.5], "nice": false, "zero": false}, "axis": {"values": [0, 2.5], "labels": false, "tickSize": 8, "tickWidth": 1.5, "title": null}},
                      "y": {"field": "r", "type": "quantitative", "scale": {"domain": [-0.5, 4.5], "nice": false, "zero": false, "reverse": true}, "axis": {"values": [0, 2, 4], "labels": false, "tickSize": 8, "tickWidth": 1.5, "title": null}},
                      "text": {"field": "v", "type": "quantitative", "format": ".1f"},
                      "color": {"condition": {"test": "datum.v >= 100 && datum.v !== 111.9", "value": "#000000"}, "value": "#ffffff"}}}
                  ]
                }
              ]
            }
          ]
        }
      ]
    },
    {
      "resolve": {"scale": {"color": "independent"}},
      "spacing": -12,
      "center": true,
      "vconcat": [
        {
          "width": 269, "height": 266,
          "view": {"stroke": "#111111", "strokeWidth": 2},
          "title": {"text": "Count. Gray", "font": "DejaVu Serif", "fontSize": 35, "fontWeight": "normal", "anchor": "middle", "frame": "group", "baseline": "alphabetic", "offset": -21},
          "data": {"name": "rmse"},
          "transform": [{"filter": "datum.p === 'g'"}, {"calculate": "datum.c - 0.51", "as": "c0"}, {"calculate": "datum.c + 0.51", "as": "c1"}, {"calculate": "datum.r - 0.51", "as": "r0"}, {"calculate": "datum.r + 0.51", "as": "r1"}],
          "layer": [
            {"mark": {"type": "rect"}, "encoding": {
              "x": {"field": "c0", "type": "quantitative", "scale": {"domain": [-0.5, 4.5], "nice": false, "zero": false}, "axis": {"values": [0, 2.5, 4], "tickSize": 8, "tickWidth": 1.5, "tickOpacity": {"condition": {"test": "datum.value === 4", "value": 0}, "value": 1}, "labelExpr": "datum.value === 0 ? 'C' : datum.value === 4 ? 'D' : ''", "labelFont": "DejaVu Sans", "labelFontSize": 56, "labelColor": {"condition": {"test": "datum.value === 0", "value": "#0000ff"}, "value": "#ff0000"}, "labelBaseline": "alphabetic", "labelPadding": 43, "title": "Decay", "titleFont": "DejaVu Sans", "titleFontSize": 33, "titleFontWeight": 300, "titleAngle": 0, "titleX": 130, "titleY": 49, "titleAlign": "center", "titleBaseline": "alphabetic"}},
              "x2": {"field": "c1"},
              "y": {"field": "r0", "type": "quantitative", "scale": {"domain": [-0.5, 4.5], "nice": false, "zero": false, "reverse": true}, "axis": {"values": [0, 2, 4], "tickSize": 8, "tickWidth": 1.5, "labelExpr": "datum.value === 0 ? 'A' : datum.value === 4 ? 'B' : ''", "labelFont": "DejaVu Sans", "labelFontSize": 56, "labelColor": {"condition": {"test": "datum.value === 0", "value": "#800080"}, "value": "#008000"}, "labelBaseline": "alphabetic", "labelOffset": 20, "labelPadding": 3, "labelAlign": "right", "title": "Amplitude", "titleFont": "DejaVu Sans", "titleFontSize": 33, "titleFontWeight": 300, "titleAngle": -90, "titleX": -26, "titleY": 133, "titleAlign": "center", "titleBaseline": "alphabetic"}},
              "y2": {"field": "r1"},
              "color": {"field": "v", "type": "quantitative", "scale": {"scheme": "viridis", "domain": [6, 100], "clamp": true}, "legend": null}}},
            {"mark": {"type": "text", "font": "DejaVu Serif", "fontWeight": "bold", "fontSize": 14, "baseline": "middle"}, "encoding": {
              "x": {"field": "c", "type": "quantitative", "scale": {"domain": [-0.5, 4.5], "nice": false, "zero": false}, "axis": {"values": [0, 2.5, 4], "tickSize": 8, "tickWidth": 1.5, "tickOpacity": {"condition": {"test": "datum.value === 4", "value": 0}, "value": 1}, "labelExpr": "datum.value === 0 ? 'C' : datum.value === 4 ? 'D' : ''", "labelFont": "DejaVu Sans", "labelFontSize": 56, "labelColor": {"condition": {"test": "datum.value === 0", "value": "#0000ff"}, "value": "#ff0000"}, "labelBaseline": "alphabetic", "labelPadding": 43, "title": "Decay", "titleFont": "DejaVu Sans", "titleFontSize": 33, "titleFontWeight": 300, "titleAngle": 0, "titleX": 130, "titleY": 49, "titleAlign": "center", "titleBaseline": "alphabetic"}},
              "y": {"field": "r", "type": "quantitative", "scale": {"domain": [-0.5, 4.5], "nice": false, "zero": false, "reverse": true}, "axis": {"values": [0, 2, 4], "tickSize": 8, "tickWidth": 1.5, "labelExpr": "datum.value === 0 ? 'A' : datum.value === 4 ? 'B' : ''", "labelFont": "DejaVu Sans", "labelFontSize": 56, "labelColor": {"condition": {"test": "datum.value === 0", "value": "#800080"}, "value": "#008000"}, "labelBaseline": "alphabetic", "labelOffset": 20, "labelPadding": 3, "labelAlign": "right", "title": "Amplitude", "titleFont": "DejaVu Sans", "titleFontSize": 33, "titleFontWeight": 300, "titleAngle": -90, "titleX": -26, "titleY": 133, "titleAlign": "center", "titleBaseline": "alphabetic"}},
              "text": {"field": "v", "type": "quantitative", "format": ".1f"},
              "color": {"condition": {"test": "datum.v >= 100 && datum.v !== 111.9", "value": "#000000"}, "value": "#ffffff"}}}
          ]
        },
        {
          "spacing": -9,
          "vconcat": [
            {
              "spacing": -6,
              "vconcat": [
                {
                  "spacing": 2,
                  "title": {"text": "σ = 5Δ", "orient": "left", "anchor": "middle", "font": "DejaVu Sans", "fontSize": 35, "fontWeight": "bold", "baseline": "alphabetic", "offset": -10, "dx": -1.5},
                  "hconcat": [
                    {
                      "width": 123, "height": 120,
                      "view": {"stroke": "#222222", "strokeWidth": 1.2},
                      "title": {"text": "A", "color": "#800080", "font": "DejaVu Sans", "fontSize": 56, "fontWeight": "normal", "anchor": "start", "frame": "group", "dx": 3, "baseline": "alphabetic", "offset": -95},
                      "data": {"name": "traces"},
                      "transform": [{"filter": "datum.k === '5A'"}],
                      "encoding": {
                        "x": {"field": "t", "type": "quantitative", "scale": {"domain": [-9, 189], "nice": false, "zero": false}, "axis": {"values": [0, 45, 90, 135, 180], "labels": false, "tickSize": 3, "tickWidth": 0.8, "title": null}},
                        "y": {"field": "y", "type": "quantitative", "scale": {"domain": [-0.05, 1.05], "nice": false, "zero": false}, "axis": {"values": [0.05, 0.24, 0.43, 0.62, 0.81, 1.0], "labels": false, "tickSize": 3, "tickWidth": 0.8, "title": "Intensity", "titleFontSize": 6, "titlePadding": 2}}
                      },
                      "layer": [
                        {"transform": [{"filter": "datum.s === 'p'"}], "mark": {"type": "line", "color": "#ee82ee", "strokeWidth": 1.1}},
                        {"transform": [{"filter": "datum.s === 'f'"}], "mark": {"type": "line", "color": "#800080", "strokeWidth": 1.1, "interpolate": "monotone"}}
                      ]
                    },
                    {
                      "width": 124, "height": 120,
                      "view": {"stroke": "#222222", "strokeWidth": 1.2},
                      "title": {"text": "B", "color": "#008000", "font": "DejaVu Sans", "fontSize": 56, "fontWeight": "normal", "anchor": "start", "frame": "group", "dx": 3, "baseline": "alphabetic", "offset": -95},
                      "data": {"name": "traces"},
                      "transform": [{"filter": "datum.k === '5B'"}],
                      "encoding": {
                        "x": {"field": "t", "type": "quantitative", "scale": {"domain": [-9, 189], "nice": false, "zero": false}, "axis": {"values": [0, 45, 90, 135, 180], "labels": false, "tickSize": 3, "tickWidth": 0.8, "title": null}},
                        "y": {"field": "y", "type": "quantitative", "scale": {"domain": [-0.05, 1.05], "nice": false, "zero": false}, "axis": {"values": [0.05, 0.24, 0.43, 0.62, 0.81, 1.0], "labels": false, "tickSize": 3, "tickWidth": 0.8, "title": null}}
                      },
                      "layer": [
                        {"transform": [{"filter": "datum.s === 'p'"}], "mark": {"type": "line", "color": "#90ee90", "strokeWidth": 1.1}},
                        {"transform": [{"filter": "datum.s === 'f'"}], "mark": {"type": "line", "color": "#006400", "strokeWidth": 1.1, "interpolate": "monotone"}}
                      ]
                    }
                  ]
                },
                {
                  "spacing": 2,
                  "title": {"text": "Opt.", "orient": "left", "anchor": "middle", "font": "DejaVu Serif", "fontSize": 35, "fontWeight": "normal", "baseline": "alphabetic", "offset": -10, "dx": 15},
                  "hconcat": [
                    {
                      "width": 123, "height": 120,
                      "view": {"stroke": "#222222", "strokeWidth": 1.2},
                      "title": {"text": "C", "color": "#0000ff", "font": "DejaVu Sans", "fontSize": 56, "fontWeight": "normal", "anchor": "start", "frame": "group", "dx": 3, "baseline": "alphabetic", "offset": -95},
                      "data": {"name": "traces"},
                      "transform": [{"filter": "datum.k === '5C'"}],
                      "encoding": {
                        "x": {"field": "t", "type": "quantitative", "scale": {"domain": [-9, 189], "nice": false, "zero": false}, "axis": {"values": [0, 45, 90, 135, 180], "labelFontSize": 8, "labelPadding": 1, "tickSize": 3, "tickWidth": 0.8, "title": "Time (ns)", "titleFontSize": 7, "titlePadding": 1}},
                        "y": {"field": "y", "type": "quantitative", "scale": {"domain": [-0.05, 1.05], "nice": false, "zero": false}, "axis": {"values": [0.05, 0.24, 0.43, 0.62, 0.81, 1.0], "labels": false, "tickSize": 3, "tickWidth": 0.8, "title": "Intensity", "titleFontSize": 6, "titlePadding": 2}}
                      },
                      "layer": [
                        {"transform": [{"filter": "datum.s === 'p'"}], "mark": {"type": "line", "color": "#add8e6", "strokeWidth": 1.1}},
                        {"transform": [{"filter": "datum.s === 'f'"}], "mark": {"type": "line", "color": "#0000ff", "strokeWidth": 1.1, "interpolate": "monotone"}}
                      ]
                    },
                    {
                      "width": 124, "height": 120,
                      "view": {"stroke": "#222222", "strokeWidth": 1.2},
                      "title": {"text": "D", "color": "#ff0000", "font": "DejaVu Sans", "fontSize": 56, "fontWeight": "normal", "anchor": "start", "frame": "group", "dx": 3, "baseline": "alphabetic", "offset": -95},
                      "data": {"name": "traces"},
                      "transform": [{"filter": "datum.k === '5D'"}],
                      "encoding": {
                        "x": {"field": "t", "type": "quantitative", "scale": {"domain": [-9, 189], "nice": false, "zero": false}, "axis": {"values": [0, 45, 90, 135, 180], "labelFontSize": 8, "labelPadding": 1, "tickSize": 3, "tickWidth": 0.8, "title": "Time (ns)", "titleFontSize": 7, "titlePadding": 1}},
                        "y": {"field": "y", "type": "quantitative", "scale": {"domain": [-0.05, 1.05], "nice": false, "zero": false}, "axis": {"values": [0.05, 0.24, 0.43, 0.62, 0.81, 1.0], "labels": false, "tickSize": 3, "tickWidth": 0.8, "title": null}}
                      },
                      "layer": [
                        {"transform": [{"filter": "datum.s === 'p'"}], "mark": {"type": "line", "color": "#ffa500", "strokeWidth": 1.1}},
                        {"transform": [{"filter": "datum.s === 'f'"}], "mark": {"type": "line", "color": "#ff0000", "strokeWidth": 1.1, "interpolate": "monotone"}}
                      ]
                    }
                  ]
                }
              ]
            },
            {
              "spacing": 0,
              "title": {"text": "σ = 10Δ", "orient": "left", "anchor": "middle", "font": "DejaVu Sans", "fontSize": 35, "fontWeight": "bold", "baseline": "alphabetic", "offset": -63, "dx": 78},
              "vconcat": [
                {
                  "spacing": 2,
                  "hconcat": [
                    {
                      "width": 124, "height": 120,
                      "view": {"stroke": "#222222", "strokeWidth": 1.2},
                      "title": {"text": "A", "color": "#800080", "font": "DejaVu Sans", "fontSize": 56, "fontWeight": "normal", "anchor": "start", "frame": "group", "dx": 3, "baseline": "alphabetic", "offset": -97},
                      "data": {"name": "traces"},
                      "transform": [{"filter": "datum.k === '10A'"}],
                      "encoding": {
                        "x": {"field": "t", "type": "quantitative", "scale": {"domain": [-9, 189], "nice": false, "zero": false}, "axis": {"values": [0, 45, 90, 135, 180], "labels": false, "tickSize": 3, "tickWidth": 0.8, "title": null}},
                        "y": {"field": "y", "type": "quantitative", "scale": {"domain": [-0.05, 1.05], "nice": false, "zero": false}, "axis": {"values": [0.05, 0.24, 0.43, 0.62, 0.81, 1.0], "labels": false, "tickSize": 3, "tickWidth": 0.8, "title": "Intensity", "titleFontSize": 6, "titlePadding": 2}}
                      },
                      "layer": [
                        {"transform": [{"filter": "datum.s === 'p'"}], "mark": {"type": "line", "color": "#ee82ee", "strokeWidth": 1.1}},
                        {"transform": [{"filter": "datum.s === 'f'"}], "mark": {"type": "line", "color": "#800080", "strokeWidth": 1.1, "interpolate": "monotone"}}
                      ]
                    },
                    {
                      "width": 125, "height": 120,
                      "view": {"stroke": "#222222", "strokeWidth": 1.2},
                      "title": {"text": "B", "color": "#008000", "font": "DejaVu Sans", "fontSize": 56, "fontWeight": "normal", "anchor": "start", "frame": "group", "dx": 3, "baseline": "alphabetic", "offset": -97},
                      "data": {"name": "traces"},
                      "transform": [{"filter": "datum.k === '10B'"}],
                      "encoding": {
                        "x": {"field": "t", "type": "quantitative", "scale": {"domain": [-9, 189], "nice": false, "zero": false}, "axis": {"values": [0, 45, 90, 135, 180], "labels": false, "tickSize": 3, "tickWidth": 0.8, "title": null}},
                        "y": {"field": "y", "type": "quantitative", "scale": {"domain": [-0.05, 1.05], "nice": false, "zero": false}, "axis": {"values": [0.05, 0.24, 0.43, 0.62, 0.81, 1.0], "labels": false, "tickSize": 3, "tickWidth": 0.8, "title": null}}
                      },
                      "layer": [
                        {"transform": [{"filter": "datum.s === 'p'"}], "mark": {"type": "line", "color": "#90ee90", "strokeWidth": 1.1}},
                        {"transform": [{"filter": "datum.s === 'f'"}], "mark": {"type": "line", "color": "#006400", "strokeWidth": 1.1, "interpolate": "monotone"}}
                      ]
                    }
                  ]
                },
                {
                  "spacing": 2,
                  "title": {"text": "Opt.", "orient": "left", "anchor": "middle", "font": "DejaVu Serif", "fontSize": 35, "fontWeight": "normal", "baseline": "alphabetic", "offset": -10, "dx": 20},
                  "hconcat": [
                    {
                      "width": 124, "height": 118,
                      "view": {"stroke": "#222222", "strokeWidth": 1.2},
                      "title": {"text": "C", "color": "#0000ff", "font": "DejaVu Sans", "fontSize": 56, "fontWeight": "normal", "anchor": "start", "frame": "group", "dx": 3, "baseline": "alphabetic", "offset": -97},
                      "data": {"name": "traces"},
                      "transform": [{"filter": "datum.k === '10C'"}],
                      "encoding": {
                        "x": {"field": "t", "type": "quantitative", "scale": {"domain": [-9, 189], "nice": false, "zero": false}, "axis": {"values": [0, 45, 90, 135, 180], "labelFontSize": 8, "labelPadding": 1, "tickSize": 3, "tickWidth": 0.8, "title": "Time (ns)", "titleFontSize": 7, "titlePadding": 1}},
                        "y": {"field": "y", "type": "quantitative", "scale": {"domain": [-0.05, 1.05], "nice": false, "zero": false}, "axis": {"values": [0.05, 0.24, 0.43, 0.62, 0.81, 1.0], "labels": false, "tickSize": 3, "tickWidth": 0.8, "title": "Intensity", "titleFontSize": 6, "titlePadding": 2}}
                      },
                      "layer": [
                        {"transform": [{"filter": "datum.s === 'p'"}], "mark": {"type": "line", "color": "#add8e6", "strokeWidth": 1.1}},
                        {"transform": [{"filter": "datum.s === 'f'"}], "mark": {"type": "line", "color": "#0000ff", "strokeWidth": 1.1, "interpolate": "monotone"}}
                      ]
                    },
                    {
                      "width": 125, "height": 118,
                      "view": {"stroke": "#222222", "strokeWidth": 1.2},
                      "title": {"text": "D", "color": "#ff0000", "font": "DejaVu Sans", "fontSize": 56, "fontWeight": "normal", "anchor": "start", "frame": "group", "dx": 3, "baseline": "alphabetic", "offset": -97},
                      "data": {"name": "traces"},
                      "transform": [{"filter": "datum.k === '10D'"}],
                      "encoding": {
                        "x": {"field": "t", "type": "quantitative", "scale": {"domain": [-9, 189], "nice": false, "zero": false}, "axis": {"values": [0, 45, 90, 135, 180], "labelFontSize": 8, "labelPadding": 1, "tickSize": 3, "tickWidth": 0.8, "title": "Time (ns)", "titleFontSize": 7, "titlePadding": 1}},
                        "y": {"field": "y", "type": "quantitative", "scale": {"domain": [-0.05, 1.05], "nice": false, "zero": false}, "axis": {"values": [0.05, 0.24, 0.43, 0.62, 0.81, 1.0], "labels": false, "tickSize": 3, "tickWidth": 0.8, "title": null}}
                      },
                      "layer": [
                        {"transform": [{"filter": "datum.s === 'p'"}], "mark": {"type": "line", "color": "#ffa500", "strokeWidth": 1.1}},
                        {"transform": [{"filter": "datum.s === 'f'"}], "mark": {"type": "line", "color": "#ff0000", "strokeWidth": 1.1, "interpolate": "monotone"}}
                      ]
                    }
                  ]
                }
              ]
            }
          ]
        }
      ]
    }
  ]
}
